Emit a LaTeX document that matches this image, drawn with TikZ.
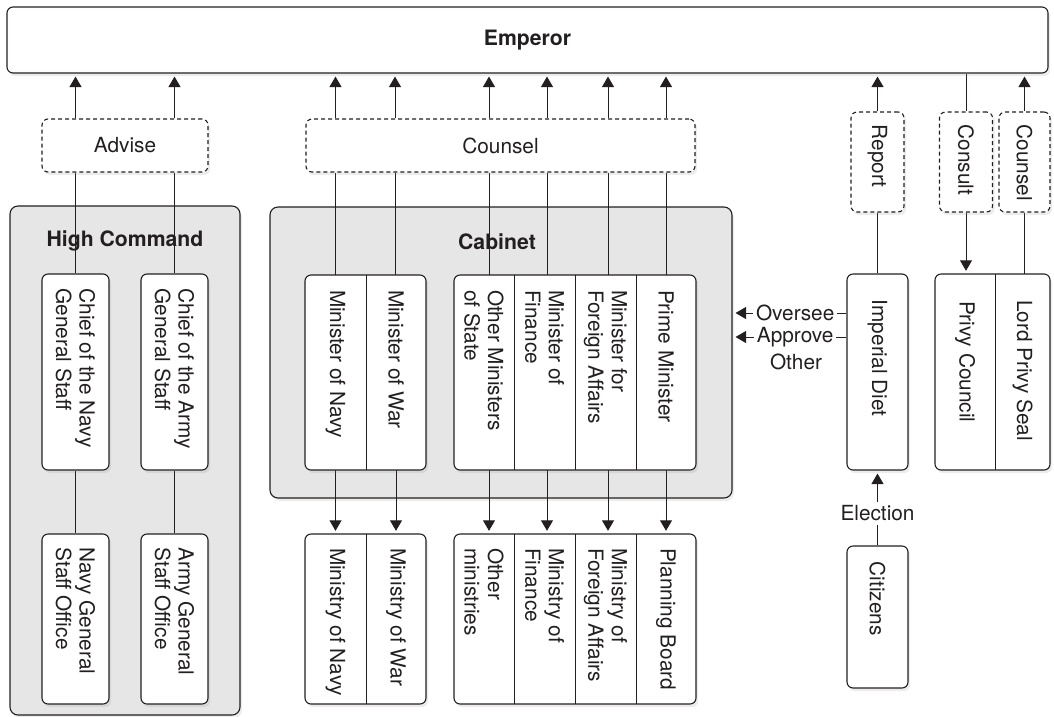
\documentclass[tikz,border=0pt]{standalone}
\usepackage{fontspec}
\setmainfont{TeX Gyre Heros}
\usetikzlibrary{arrows.meta,shadows}
\definecolor{ink}{HTML}{231F20}
\definecolor{panel}{HTML}{E6E6E6}
\pgfdeclarelayer{bg}
\pgfdeclarelayer{mid}
\pgfsetlayers{bg,mid,main}
\begin{document}
\begin{tikzpicture}[x=1pt,y=-1pt,
  font=\fontsize{20.8}{23.5}\selectfont,
  every node/.style={text=ink},
  shade/.style={drop shadow={shadow xshift=2pt,shadow yshift=-3pt,opacity=.15}},
  box/.style={draw=ink, line width=1.1pt, fill=white, rounded corners=6pt, inner sep=0pt, shade},
  dbox/.style={box, dash pattern=on 4pt off 3pt},
  panelbox/.style={draw=ink, line width=1.1pt, fill=panel, rounded corners=8pt, inner sep=0pt, shade},
  cell/.style={inner sep=0pt},
  vtext/.style={rotate=-90, anchor=west, align=left, inner sep=0pt},
  ttl/.style={font=\fontsize{21.2}{24}\selectfont\bfseries},
  link/.style={draw=ink, line width=0.9pt},
  arr/.style={link, shorten >=3pt, -{Triangle[length=10.5pt,width=12pt]}},
  divider/.style={draw=ink, line width=0.8pt},
]
\useasboundingbox (0,0) rectangle (1054,716);

% ---------- panels ----------
\begin{pgfonlayer}{bg}
\node[panelbox, minimum width=230pt, minimum height=509pt] (hc) at (125,460.5) {};
\node[panelbox, minimum width=462pt, minimum height=291pt] (cab) at (501,352.5) {};
\end{pgfonlayer}
\node[ttl] (hct) at (125,241) {High Command};
\node[ttl] (cabt) at (497,242) {Cabinet};

% ---------- emperor and relay boxes ----------
\node[box, minimum width=1041pt, minimum height=66pt] (emperor) at (527.5,40) {};
\node[ttl] (empt) at (emperor) {Emperor};
\node[dbox, minimum width=166pt, minimum height=53pt] (advise) at (125,145.5) {};
\node (adviset) at (advise) {Advise};
\node[dbox, minimum width=389pt, minimum height=53pt] (counsel) at (500.5,145.5) {};
\node (counselt) at (counsel) {Counsel};
\node[dbox, minimum width=53pt, minimum height=100pt] (report) at (877.5,162) {};
\node[vtext] (reportt) at ([yshift=-13pt]report.north) {Report};
\node[dbox, minimum width=53pt, minimum height=100pt] (consult) at (966,162) {};
\node[vtext] (consultt) at ([yshift=-13pt]consult.north) {Consult};
\node[dbox, minimum width=51pt, minimum height=100pt] (counselb) at (1024.5,162) {};
\node[vtext] (counselbt) at ([yshift=-13pt]counselb.north) {Counsel};

% ---------- high command ----------
\node[box, minimum width=67pt, minimum height=196pt] (cnavy) at (75.5,372) {};
\node[vtext] (cnavyt) at ([yshift=-15pt]cnavy.north) {Chief of the Navy\\General Staff};
\node[box, minimum width=67pt, minimum height=196pt] (carmy) at (174.5,372) {};
\node[vtext] (carmyt) at ([yshift=-15pt]carmy.north) {Chief of the Army\\General Staff};
\node[box, minimum width=67pt, minimum height=170pt] (ngso) at (75.5,619) {};
\node[vtext] (ngsot) at ([yshift=-14pt]ngso.north) {Navy General\\Staff Office};
\node[box, minimum width=67pt, minimum height=170pt] (agso) at (174.5,619) {};
\node[vtext] (agsot) at ([yshift=-14pt]agso.north) {Army General\\Staff Office};

% ---------- cabinet ministers ----------
\node[box, minimum width=121pt, minimum height=195pt] (g1) at (365.5,372.5) {};
\node[cell, minimum width=61pt, minimum height=195pt] (mnavy) at (335.5,372.5) {};
\node[cell, minimum width=60pt, minimum height=195pt] (mwar) at (396,372.5) {};
\node[vtext] at ([yshift=-15pt]mnavy.north) {Minister of Navy};
\node[vtext] at ([yshift=-15pt]mwar.north) {Minister of War};
\draw[divider] (mnavy.north east) -- (mnavy.south east);

\node[box, minimum width=242pt, minimum height=195pt] (g2) at (575,372.5) {};
\node[cell, minimum width=60pt, minimum height=195pt] (moth) at (484,372.5) {};
\node[cell, minimum width=61pt, minimum height=195pt] (mfin) at (544.5,372.5) {};
\node[cell, minimum width=61pt, minimum height=195pt] (mfor) at (605.5,372.5) {};
\node[cell, minimum width=60pt, minimum height=195pt] (pm) at (666,372.5) {};
\node[vtext] at ([yshift=-15pt]moth.north) {Other Ministers\\of State};
\node[vtext] at ([yshift=-15pt]mfin.north) {Minister of\\Finance};
\node[vtext] at ([yshift=-15pt]mfor.north) {Minister for\\Foreign Affairs};
\node[vtext] at ([yshift=-15pt]pm.north) {Prime Minister};
\draw[divider] (moth.north east) -- (moth.south east);
\draw[divider] (mfin.north east) -- (mfin.south east);
\draw[divider] (mfor.north east) -- (mfor.south east);

% ---------- ministries ----------
\node[box, minimum width=121pt, minimum height=170pt] (b1) at (365.5,619) {};
\node[cell, minimum width=61pt, minimum height=170pt] (ynavy) at (335.5,619) {};
\node[cell, minimum width=60pt, minimum height=170pt] (ywar) at (396,619) {};
\node[vtext] at ([yshift=-14pt]ynavy.north) {Ministry of Navy};
\node[vtext] at ([yshift=-14pt]ywar.north) {Ministry of War};
\draw[divider] (ynavy.north east) -- (ynavy.south east);

\node[box, minimum width=242pt, minimum height=170pt] (b2) at (575,619) {};
\node[cell, minimum width=60pt, minimum height=170pt] (yoth) at (484,619) {};
\node[cell, minimum width=61pt, minimum height=170pt] (yfin) at (544.5,619) {};
\node[cell, minimum width=61pt, minimum height=170pt] (yfor) at (605.5,619) {};
\node[cell, minimum width=60pt, minimum height=170pt] (pb) at (666,619) {};
\node[vtext] at ([yshift=-14pt]yoth.north) {Other\\ministries};
\node[vtext] at ([yshift=-14pt]yfin.north) {Ministry of\\Finance};
\node[vtext] at ([yshift=-14pt]yfor.north) {Ministry of\\Foreign Affairs};
\node[vtext] at ([yshift=-14pt]pb.north) {Planning Board};
\draw[divider] (yoth.north east) -- (yoth.south east);
\draw[divider] (yfin.north east) -- (yfin.south east);
\draw[divider] (yfor.north east) -- (yfor.south east);

% ---------- right side ----------
\node[box, minimum width=61pt, minimum height=196pt] (diet) at (877.5,372) {};
\node[vtext] (dietb) at ([yshift=-26pt]diet.north) {Imperial Diet};
\node[box, minimum width=115pt, minimum height=196pt] (pg) at (992.5,372) {};
\node[cell, minimum width=60pt, minimum height=196pt] (privy) at (965,372) {};
\node[cell, minimum width=55pt, minimum height=196pt] (lps) at (1022.5,372) {};
\node[vtext] at ([yshift=-27pt]privy.north) {Privy Council};
\node[vtext] at ([yshift=-26pt]lps.north) {Lord Privy Seal};
\draw[divider] (privy.north east) -- (privy.south east);
\node[box, minimum width=61pt, minimum height=142pt] (citizens) at (877.5,617) {};
\node[vtext] (citizenst) at ([yshift=-16pt]citizens.north) {Citizens};
\node (other) at (796,362) {Other};

\coordinate (ovy) at (0,313);
\coordinate (apy) at (0,337);

% ---------- connectors ----------
\begin{pgfonlayer}{mid}
% high command
\draw[arr] (advise.north -| cnavy) -- (emperor.south -| cnavy);
\draw[arr] (advise.north -| carmy) -- (emperor.south -| carmy);
\draw[link] (cnavy.north) -- (advise.south -| cnavy);
\draw[link] (carmy.north) -- (advise.south -| carmy);
\draw[link] (cnavy.south) -- (ngso.north);
\draw[link] (carmy.south) -- (agso.north);
% cabinet up
\foreach \c/\s in {mnavy/0, mwar/-1, moth/5, mfin/2.5, mfor/2.5, pm/0}{
  \draw[link] ([xshift=\s pt]\c.north) -- ([xshift=\s pt]counsel.south -| \c);
  \draw[arr] ([xshift=\s pt]counsel.north -| \c) -- ([xshift=\s pt]emperor.south -| \c);
}
% cabinet down
\draw[arr] (mnavy.south) -- (ynavy.north);
\draw[arr] (mwar.south) -- (ywar.north);
\draw[arr] ([xshift=5pt]moth.south) -- ([xshift=5pt]yoth.north);
\draw[arr] ([xshift=2.5pt]mfin.south) -- ([xshift=2.5pt]yfin.north);
\draw[arr] ([xshift=2.5pt]mfor.south) -- ([xshift=2.5pt]yfor.north);
\draw[arr] (pm.south) -- (pb.north);
% right side
\draw[arr] (report.north) -- (emperor.south -| report);
\draw[link] (diet.north) -- (report.south);
\draw[link] (emperor.south -| consult) -- (consult.north);
\draw[arr] (consult.south) -- (consult.south |- privy.north);
\draw[arr] (counselb.north) -- (emperor.south -| counselb);
\draw[link] (lps.north -| counselb) -- (counselb.south);
\draw[arr] (diet.west |- ovy) -- node[pos=0.45, fill=white, inner xsep=3pt, inner ysep=1pt] (oversee) {Oversee} (cab.east |- ovy);
\draw[arr] (diet.west |- apy) -- node[pos=0.45, fill=white, inner xsep=3pt, inner ysep=1pt] (approve) {Approve} (cab.east |- apy);
\draw[arr] (citizens.north) -- node[pos=0.43, fill=white, inner xsep=2pt, inner ysep=4pt] (election) {Election} (diet.south);
\end{pgfonlayer}
\end{tikzpicture}
\end{document}
